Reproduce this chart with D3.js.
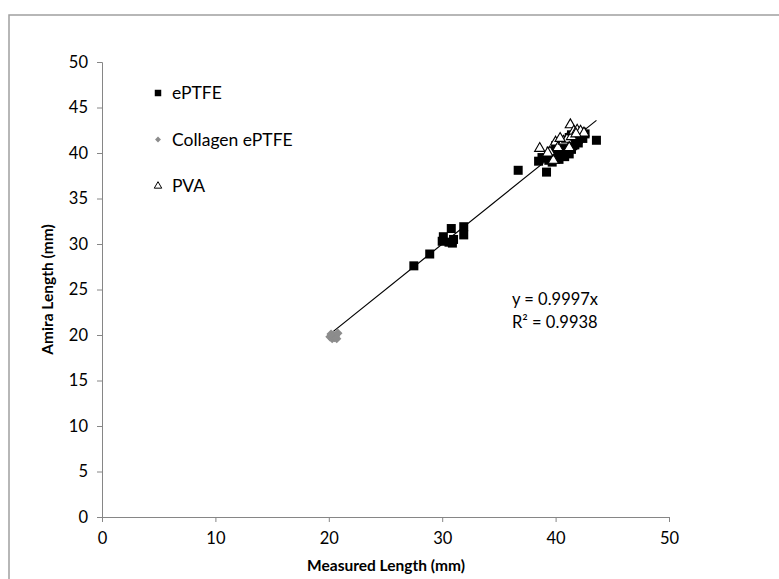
<!DOCTYPE html>
<html>
<head>
<meta charset="utf-8">
<script src="https://cdn.jsdelivr.net/npm/d3@7"></script>
<style>
  body { margin: 0; background: #fff; }
  text { font-family: Lato, "Open Sans", sans-serif; }
</style>
</head>
<body>
<div class="chart"></div>
<script>
var width = 779, height = 579;

// data (measured, amira)
var ePTFE = [
  [27.5, 27.6], [28.9, 28.9], [30.0, 30.3], [30.1, 30.8], [30.6, 30.2],
  [30.8, 31.7], [31.0, 30.5], [30.9, 30.1], [31.9, 31.0], [31.9, 31.9],
  [36.7, 38.1], [38.5, 39.1], [38.8, 39.5], [39.2, 37.9], [43.6, 41.4],
  [39.5, 39.6], [39.8, 40.0], [40.0, 39.3], [40.2, 40.4], [40.4, 39.8],
  [40.5, 40.8], [40.7, 40.2], [40.8, 39.6], [41.0, 41.0], [41.1, 40.5],
  [41.2, 39.9], [41.3, 41.3], [41.5, 40.8], [41.6, 41.6], [41.8, 41.2],
  [42.0, 41.5], [42.2, 41.9], [40.0, 40.8], [39.7, 39.0], [40.9, 41.4],
  [41.4, 42.0], [40.3, 39.3], [39.9, 39.9], [41.7, 40.9], [42.1, 42.0],
  [40.6, 40.6], [39.4, 39.2], [39.6, 40.2], [40.1, 40.1], [40.4, 40.5],
  [40.9, 40.0], [41.2, 41.7], [41.9, 41.8], [42.4, 41.6], [42.6, 42.1],
  [40.6, 39.9], [41.0, 40.3], [41.5, 41.2], [39.9, 39.5], [40.3, 41.0],
  [42.3, 42.3], [41.8, 41.9], [40.8, 41.0], [39.2, 39.5], [41.3, 40.6],
  [40.2, 39.7], [40.7, 40.9], [41.1, 41.2], [41.6, 40.9], [42.0, 41.1],
  [39.6, 39.3], [40.5, 40.2], [41.4, 40.4]
];
var collagen = [
  [20.1, 19.8], [20.3, 19.6], [20.4, 20.0], [20.5, 19.7], [20.6, 19.9],
  [20.8, 20.2], [20.2, 20.1], [20.7, 19.6]
];
var pva = [
  [38.6, 40.5], [39.5, 40.1], [40.0, 41.2], [40.2, 40.6], [40.7, 41.3],
  [41.0, 41.5], [41.3, 43.1], [41.4, 41.8], [41.6, 42.4], [41.9, 42.5],
  [42.2, 42.4], [42.5, 42.2], [39.8, 39.2], [41.2, 40.6], [40.4, 41.6],
  [39.3, 40.0], [41.8, 42.1]
];
var xTicks = [0, 10, 20, 30, 40, 50];
var yTicks = [0, 5, 10, 15, 20, 25, 30, 35, 40, 45, 50];
var slope = 0.9997;
var eqLabels = ["y = 0.9997x", "R\u00b2 = 0.9938"];
var legendNames = ["ePTFE", "Collagen ePTFE", "PVA"];

var svg = d3.select('.chart').append('svg')
  .attr('width', width)
  .attr('height', height);

// outer chart frame
svg.append('rect')
  .attr('x', 9).attr('y', 15)
  .attr('width', width + 10).attr('height', height + 10)
  .style('fill', 'none')
  .style('stroke', '#a0a0a0')
  .style('stroke-width', 1.5);

var x = d3.scaleLinear().domain([0, 50]).range([102, 669]);
var y = d3.scaleLinear().domain([0, 50]).range([517, 62]);

var xAxis = d3.axisBottom(x).tickValues(xTicks).tickSize(5).tickPadding(8);
var yAxis = d3.axisLeft(y).tickValues(yTicks).tickSize(5).tickPadding(9);

var gx = svg.append('g')
  .attr('transform', 'translate(0,' + y(0) + ')')
  .call(xAxis);
var gy = svg.append('g')
  .attr('transform', 'translate(' + x(0) + ',0)')
  .call(yAxis);

[gx, gy].forEach(function (g) {
  g.select('.domain').attr('stroke', '#868686');
  g.selectAll('.tick line').attr('stroke', '#868686');
  g.selectAll('.tick text')
    .attr('fill', '#000')
    .style('font-size', '16.5px')
    .style('font-family', 'Lato, "Open Sans", sans-serif');
});
gx.selectAll('.tick text').attr('dy', '0.85em');

// axis titles
svg.append('text')
  .attr('x', 386).attr('y', 571)
  .attr('text-anchor', 'middle')
  .style('font-size', '15.5px')
  .style('font-weight', 'bold')
  .text('Measured Length (mm)');

svg.append('text')
  .attr('transform', 'translate(53,' + y(25) + ')rotate(-90)')
  .attr('text-anchor', 'middle')
  .style('font-size', '15.5px')
  .style('font-weight', 'bold')
  .text('Amira Length (mm)');

// trendline over the data range
var allX = ePTFE.concat(collagen, pva).map(function (d) { return d[0]; });
var x0 = d3.min(allX), x1 = d3.max(allX);
svg.append('line')
  .attr('x1', x(x0)).attr('y1', y(slope * x0))
  .attr('x2', x(x1)).attr('y2', y(slope * x1))
  .attr('stroke', '#000')
  .attr('stroke-width', 1.2);

// markers
var sq = 9;
svg.append('g').selectAll('rect')
  .data(ePTFE).enter().append('rect')
  .attr('x', function (d) { return x(d[0]) - sq / 2; })
  .attr('y', function (d) { return y(d[1]) - sq / 2; })
  .attr('width', sq).attr('height', sq)
  .attr('fill', '#000');

var diamond = d3.symbol().type(d3.symbolDiamond2).size(55);
svg.append('g').selectAll('path')
  .data(collagen).enter().append('path')
  .attr('d', diamond)
  .attr('transform', function (d) { return 'translate(' + x(d[0]) + ',' + y(d[1]) + ')'; })
  .attr('fill', '#8c8c8c');

var tri = d3.symbol().type(d3.symbolTriangle2).size(75);
svg.append('g').selectAll('path')
  .data(pva).enter().append('path')
  .attr('d', tri)
  .attr('transform', function (d) { return 'translate(' + x(d[0]) + ',' + y(d[1]) + ')'; })
  .attr('fill', '#fff')
  .attr('stroke', '#000')
  .attr('stroke-width', 1.1);

// equation
svg.selectAll('.eq')
  .data(eqLabels).enter().append('text')
  .attr('class', 'eq')
  .attr('x', 512)
  .attr('y', function (d, i) { return 305 + i * 23; })
  .style('font-size', '16.5px')
  .text(function (d) { return d; });

// legend
var lg = svg.append('g').selectAll('g')
  .data(legendNames).enter().append('g')
  .attr('transform', function (d, i) { return 'translate(158,' + (93 + i * 46.5) + ')'; });

lg.append('path')
  .attr('d', function (d, i) {
    if (i === 0) return d3.symbol().type(d3.symbolSquare).size(42)();
    if (i === 1) return d3.symbol().type(d3.symbolDiamond2).size(22)();
    return d3.symbol().type(d3.symbolTriangle2).size(40)();
  })
  .attr('fill', function (d, i) { return i === 0 ? '#000' : i === 1 ? '#8c8c8c' : '#fff'; })
  .attr('stroke', function (d, i) { return i === 2 ? '#000' : 'none'; });

lg.append('text')
  .attr('x', 14)
  .attr('dy', '0.35em')
  .style('font-size', '17.5px')
  .text(function (d) { return d; });
</script>
</body>
</html>
